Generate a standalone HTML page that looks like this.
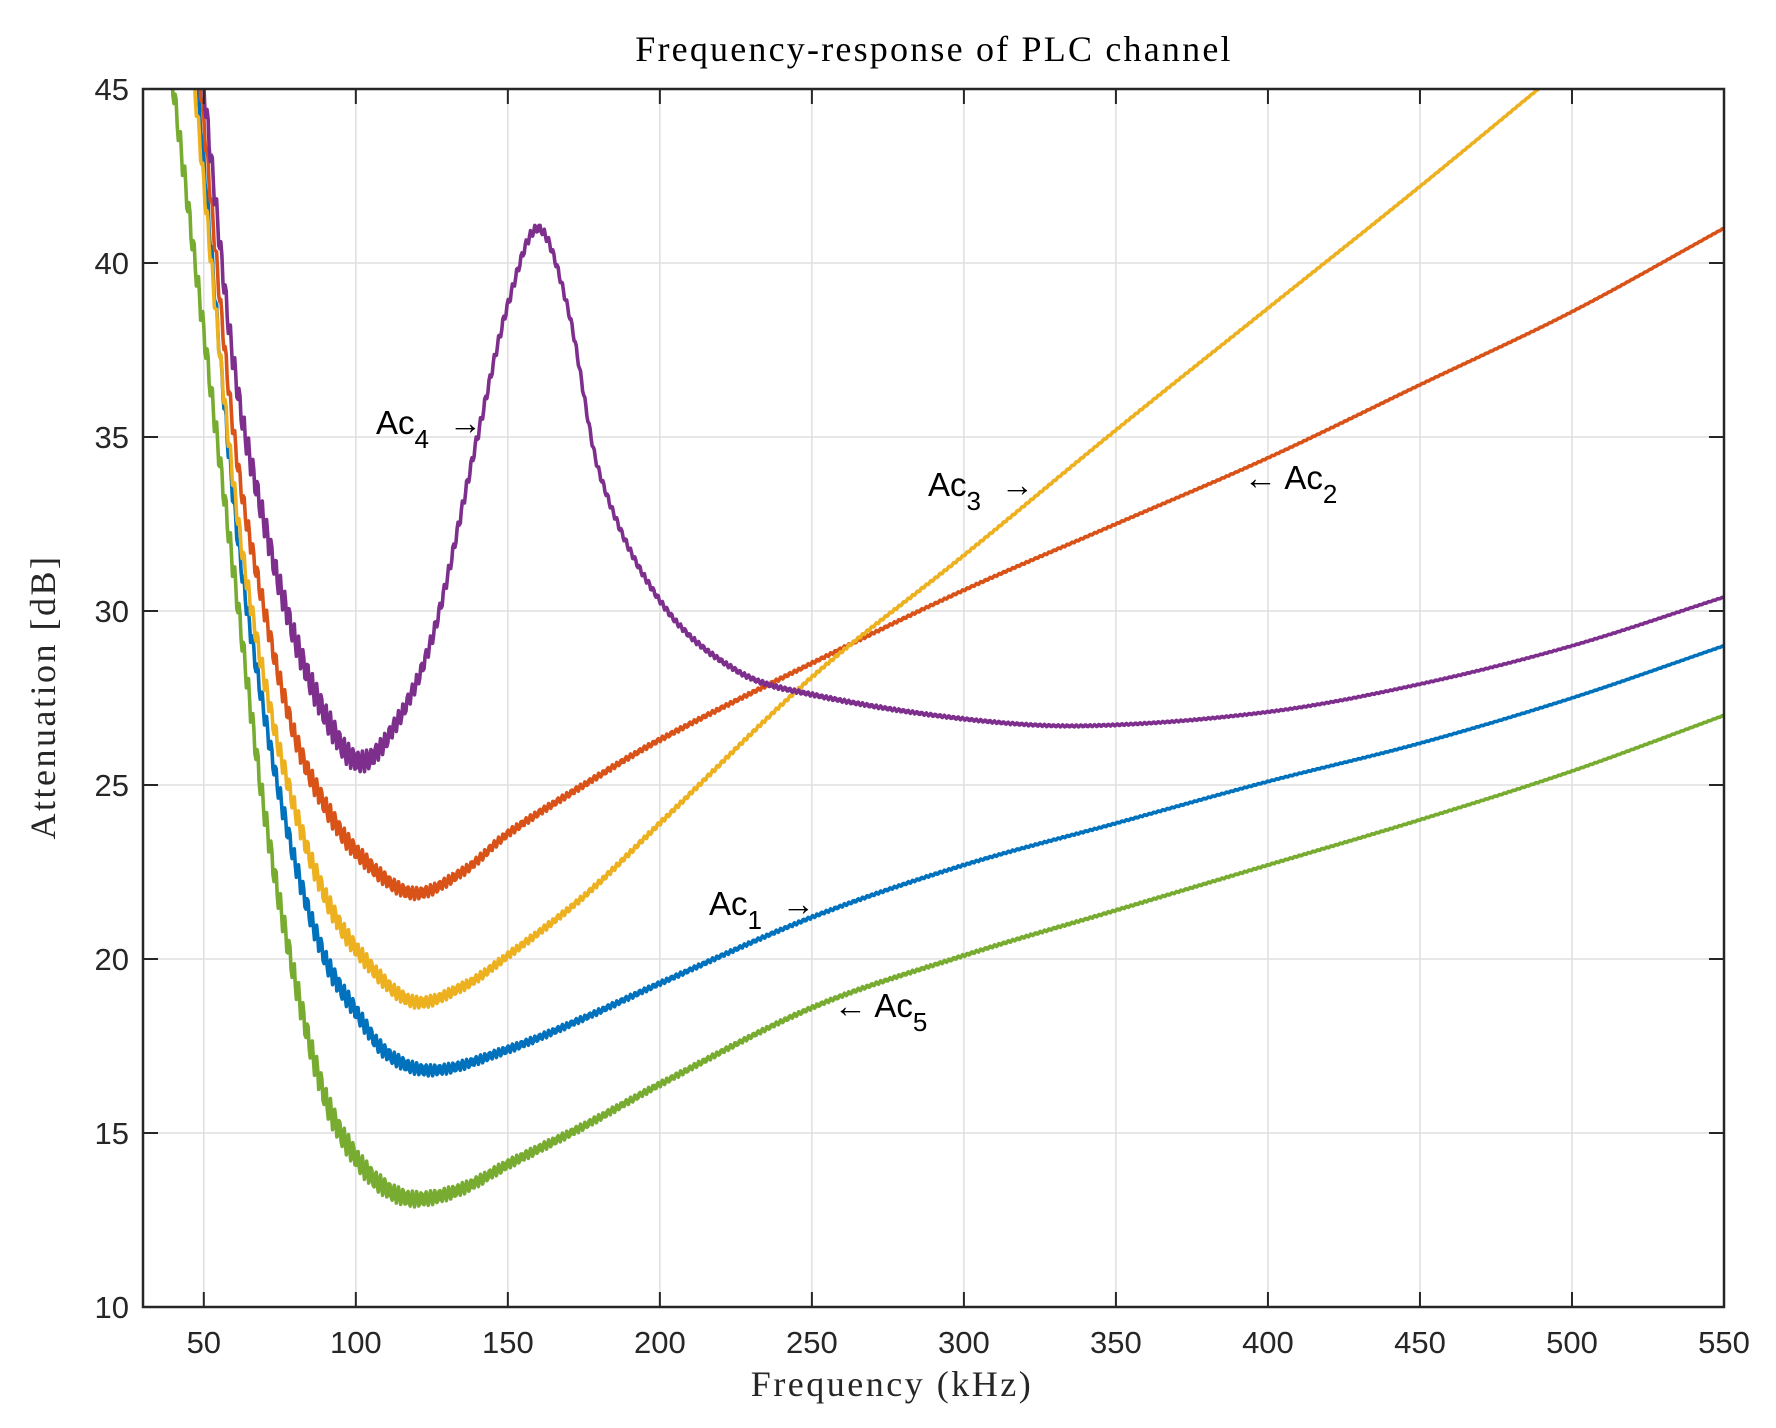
<!DOCTYPE html>
<html><head><meta charset="utf-8"><style>
html,body{margin:0;padding:0;background:#fff;}
svg{display:block}
</style></head><body>
<svg id="s" width="1776" height="1428" xmlns="http://www.w3.org/2000/svg">
<rect width="1776" height="1428" fill="#fff"/>
<g id="grid" stroke="#dfdfdf" stroke-width="1.5"></g>
<g id="curves" clip-path="url(#cp)"></g>
<defs><clipPath id="cp"><rect x="143" y="89" width="1581" height="1218"/></clipPath></defs>
<rect x="143" y="89" width="1581" height="1218" fill="none" stroke="#262626" stroke-width="2.5"/>
<g id="ticks" stroke="#262626" stroke-width="2"></g>
<g id="labels" font-family="Liberation Sans, sans-serif" font-size="31" fill="#262626"></g>
<text x="934" y="61" text-anchor="middle" font-family="Liberation Serif, serif" font-size="36" letter-spacing="2.2" fill="#000">Frequency-response of PLC channel</text>
<text x="892" y="1396" text-anchor="middle" font-family="Liberation Serif, serif" font-size="36" letter-spacing="2.5" fill="#262626">Frequency (kHz)</text>
<text transform="translate(55,697) rotate(-90)" text-anchor="middle" font-family="Liberation Serif, serif" font-size="36" letter-spacing="2.5" fill="#262626">Attenuation [dB]</text>
<g font-family="Liberation Sans, sans-serif" font-size="33" fill="#000">
<text x="376" y="434">Ac<tspan font-size="26" dy="14">4</tspan><tspan dy="-14" dx="20">→</tspan></text>
<text x="928" y="496">Ac<tspan font-size="26" dy="14">3</tspan><tspan dy="-14" dx="20">→</tspan></text>
<text x="1244" y="489">← Ac<tspan font-size="26" dy="14">2</tspan></text>
<text x="709" y="915">Ac<tspan font-size="26" dy="14">1</tspan><tspan dy="-14" dx="20">→</tspan></text>
<text x="834" y="1017">← Ac<tspan font-size="26" dy="14">5</tspan></text>
</g>
</svg>
<script>
var X0=143,X1=1724,Y0=1307,Y1=89;
function px(f){return X0+(f-30)*(X1-X0)/520;}
function py(d){return Y0-(d-10)*(Y0-Y1)/35;}
var NS="http://www.w3.org/2000/svg";
function el(p,t,a){var e=document.createElementNS(NS,t);for(var k in a)e.setAttribute(k,a[k]);p.appendChild(e);return e;}
var g=document.getElementById('grid'),tk=document.getElementById('ticks'),lb=document.getElementById('labels');
for(var f=50;f<=550;f+=50){var x=px(f);if(f<550)el(g,'line',{x1:x,y1:Y1,x2:x,y2:Y0});
el(tk,'line',{x1:x,y1:Y0,x2:x,y2:Y0-15});el(tk,'line',{x1:x,y1:Y1,x2:x,y2:Y1+15});
var t=el(lb,'text',{x:x,y:Y0+46,'text-anchor':'middle'});t.textContent=f;}
for(var d=10;d<=45;d+=5){var y=py(d);if(d>10&&d<45)el(g,'line',{x1:X0,y1:y,x2:X1,y2:y});
el(tk,'line',{x1:X0,y1:y,x2:X0+15,y2:y});el(tk,'line',{x1:X1,y1:y,x2:X1-15,y2:y});
var t=el(lb,'text',{x:X0-14,y:y+11,'text-anchor':'end'});t.textContent=d;}
function interp(pts,f){
 var n=pts.length;if(f<=pts[0][0]){var a=pts[0],b=pts[1];return a[1]+(f-a[0])*(b[1]-a[1])/(b[0]-a[0]);}
 if(f>=pts[n-1][0]){var a=pts[n-2],b=pts[n-1];return b[1]+(f-b[0])*(b[1]-a[1])/(b[0]-a[0]);}
 var i=0;while(pts[i+1][0]<f)i++;
 var p0=pts[Math.max(i-1,0)],p1=pts[i],p2=pts[i+1],p3=pts[Math.min(i+2,n-1)];
 var h=p2[0]-p1[0],t=(f-p1[0])/h;
 var m1=(p2[1]-p0[1])/(p2[0]-p0[0])*h,m2=(p3[1]-p1[1])/(p3[0]-p1[0])*h;
 var t2=t*t,t3=t2*t;
 return (2*t3-3*t2+1)*p1[1]+(t3-2*t2+t)*m1+(-2*t3+3*t2)*p2[1]+(t3-t2)*m2;}
var C={
blue:['#0072BD',[[48,45],[60,33],[70,27],[80,22.8],[90,20],[100,18.5],[110,17.3],[125,16.8],[150,17.4],[175,18.3],[200,19.3],[250,21.2],[300,22.7],[350,23.9],[400,25.1],[450,26.2],[500,27.5],[550,29]]],
red:['#D95319',[[49,45],[60,35],[70,30],[80,26.4],[90,24.4],[100,23.1],[118,21.9],[135,22.5],[150,23.6],[175,25],[200,26.3],[250,28.5],[300,30.6],[350,32.5],[400,34.4],[450,36.5],[500,38.6],[550,41]]],
yel:['#EDB120',[[47,45],[60,33.5],[70,28],[80,24.3],[90,21.8],[100,20.3],[118,18.8],[135,19.2],[150,20.1],[175,21.8],[200,23.9],[250,28.1],[300,31.6],[350,35.2],[400,38.7],[450,42.2],[500,45.8]]],
pur:['#7E2F8E',[[50,45],[60,37],[70,32.5],[80,29.2],[90,27],[100,25.7],[110,26.3],[125,29.2],[140,35],[150,38.8],[160,41],[170,38.6],[180,34],[200,30.3],[225,28.3],[250,27.6],[300,26.9],[340,26.7],[400,27.1],[450,27.9],[500,29],[550,30.4]]],
grn:['#77AC30',[[40,45],[50,38],[60,31],[70,24.2],[80,19.4],[90,16],[100,14.3],[110,13.4],[120,13.1],[135,13.4],[150,14.1],[175,15.2],[200,16.4],[250,18.6],[300,20.1],[350,21.4],[400,22.7],[450,24],[500,25.4],[550,27]]]};
var cg=document.getElementById('curves');
['blue','red','yel','grn','pur'].forEach(function(k){
 var c=C[k],p=[],amp=(k=='pur'||k=='grn')?0.32:0.25;
 for(var f=36;f<=552;f+=0.35){var a=amp*Math.min(1.2,Math.pow(100/f,2));var d=interp(c[1],f)+a*Math.sin(f*4.2);
 p.push(px(f).toFixed(1)+','+py(d).toFixed(1));}
 el(cg,'polyline',{points:p.join(' '),fill:'none',stroke:c[0],'stroke-width':3.6,'stroke-linejoin':'round'});
});
</script>
</body></html>
